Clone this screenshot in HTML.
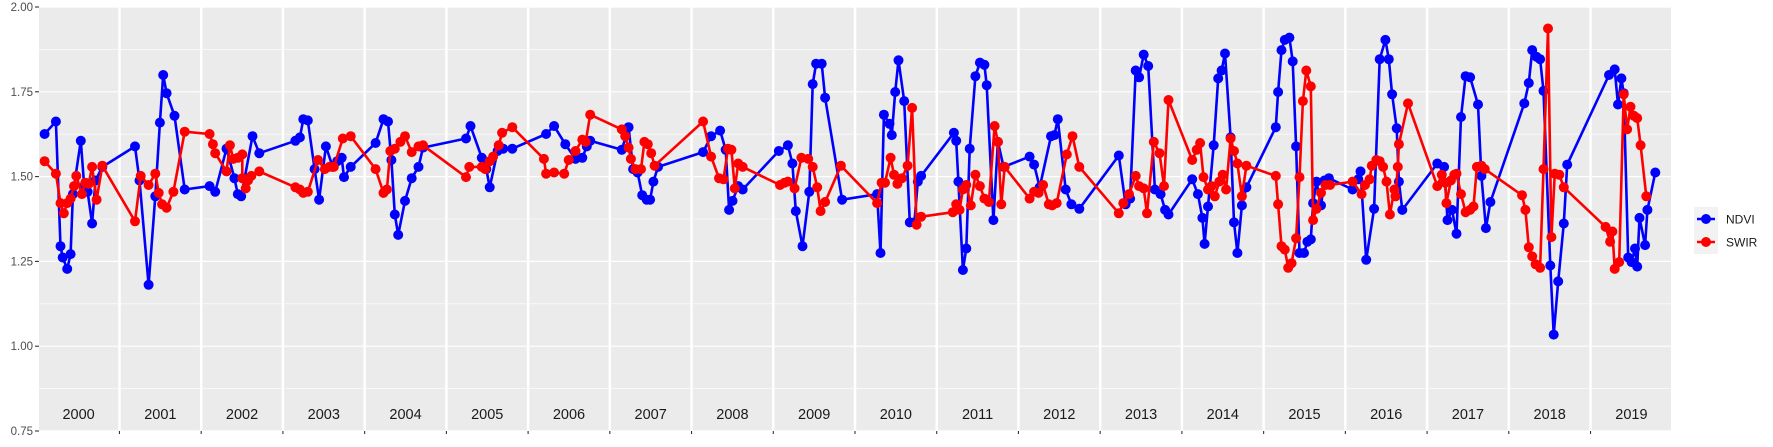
<!DOCTYPE html>
<html><head><meta charset="utf-8"><style>
body{margin:0;background:#fff;width:1773px;height:442px;overflow:hidden}
svg text{font-family:"Liberation Sans",sans-serif}
</style></head><body>
<svg id="s" width="1773" height="442" xmlns="http://www.w3.org/2000/svg"></svg>
<script>
const S=document.getElementById('s');let h='';
const L=39,R=1671,T=7,B=431;
const yv=v=>T+(2-v)/1.25*(B-T);
const gap=2.5,fw=(R-L-19*gap)/20;
for(let i=0;i<20;i++){const x0=L+i*(fw+gap);
h+=`<rect x="${x0}" y="${T}" width="${fw}" height="${B-T}" fill="#ebebeb"/>`;
for(let v=0.875;v<2;v+=0.25)h+=`<line x1="${x0}" x2="${x0+fw}" y1="${yv(v)}" y2="${yv(v)}" stroke="#fff" stroke-width="0.6"/>`;
for(let v=0.75;v<=2.001;v+=0.25)h+=`<line x1="${x0}" x2="${x0+fw}" y1="${yv(v)}" y2="${yv(v)}" stroke="#fff" stroke-width="1.2"/>`;
h+=`<text x="${x0+fw/2}" y="419" font-size="14.5" text-anchor="middle" fill="#1a1a1a">${2000+i}</text>`;
if(i>0)h+=`<line x1="${x0-gap/2}" x2="${x0-gap/2}" y1="${B}" y2="${B+3}" stroke="#333" stroke-width="1.1"/>`;}
[0.75,1,1.25,1.5,1.75,2].forEach(v=>{h+=`<line x1="35" x2="${L}" y1="${yv(v)}" y2="${yv(v)}" stroke="#333" stroke-width="1.1"/><text x="33" y="${yv(v)+4}" font-size="11.5" text-anchor="end" fill="#4d4d4d">${v.toFixed(2)}</text>`;});
const tx=x=>39+(x-37)*1.1295, ty=y=>7+(y-7)*1.1337;
const nd=[[42,119],[52,108],[56,218],[58,228],[62,238],[65,225],[67,172],[74,125],[77,165],[80,170],[84,198],[87,160],[93,148],[122,130],[126,160],[134,252],[140,174],[144,109],[147,67],[150,83],[157,103],[166,168],[188,165],[193,170],[203,132],[210,158],[213,172],[216,174],[226,121],[232,136],[264,125],[268,122],[271,106],[275,107],[281,150],[285,177],[291,130],[297,148],[301,143],[305,140],[307,157],[313,148],[335,127],[342,106],[346,108],[349,142],[352,190],[355,208],[361,178],[367,158],[373,148],[377,131],[415,123],[419,112],[429,140],[433,150],[436,166],[443,134],[448,132],[456,132],[486,119],[493,112],[503,128],[512,141],[518,140],[522,130],[525,125],[553,133],[559,113],[563,150],[567,153],[571,173],[575,177],[578,177],[581,161],[585,148],[625,135],[632,121],[640,116],[645,133],[648,186],[651,178],[656,165],[660,168],[692,134],[700,129],[704,145],[707,187],[713,218],[719,170],[722,75],[725,57],[730,57],[733,87],[748,177],[779,172],[782,224],[785,102],[790,110],[792,120],[795,82],[798,54],[803,90],[808,197],[812,197],[815,161],[818,156],[847,118],[849,125],[851,161],[855,239],[858,220],[861,132],[866,68],[870,56],[874,58],[876,76],[882,195],[886,126],[891,148],[914,139],[918,146],[923,166],[933,121],[936,120],[939,106],[946,168],[951,181],[958,185],[993,138],[999,181],[1003,176],[1008,63],[1011,69],[1015,49],[1019,59],[1025,168],[1030,172],[1034,186],[1037,190],[1058,159],[1063,172],[1067,193],[1069,216],[1072,183],[1077,129],[1081,70],[1084,63],[1087,48],[1092,122],[1095,197],[1098,224],[1102,182],[1106,166],[1132,113],[1134,82],[1137,45],[1140,36],[1144,34],[1147,55],[1150,130],[1153,224],[1157,224],[1160,214],[1163,212],[1165,180],[1168,161],[1172,182],[1175,160],[1179,158],[1200,168],[1205,159],[1207,152],[1212,230],[1219,185],[1224,53],[1229,36],[1232,53],[1235,84],[1239,114],[1241,161],[1244,186],[1275,145],[1281,148],[1284,195],[1288,186],[1292,207],[1296,104],[1300,68],[1304,69],[1311,93],[1314,156],[1318,202],[1322,179],[1352,92],[1356,74],[1359,45],[1363,51],[1366,53],[1369,81],[1375,235],[1378,296],[1382,249],[1387,198],[1390,146],[1427,67],[1432,62],[1435,93],[1438,70],[1440,83],[1444,228],[1447,232],[1450,220],[1452,236],[1454,193],[1459,217],[1461,186],[1468,153]];
const sw=[[42,143],[52,154],[56,180],[59,189],[62,180],[65,176],[68,165],[70,156],[75,172],[78,162],[81,163],[84,148],[88,177],[93,147],[122,196],[127,156],[134,164],[140,154],[143,171],[146,181],[150,184],[156,170],[166,117],[188,119],[191,128],[193,136],[203,152],[206,129],[209,141],[213,140],[217,137],[217,158],[220,167],[222,160],[225,156],[232,152],[264,166],[268,168],[271,171],[275,170],[284,142],[290,150],[294,148],[298,148],[306,123],[313,121],[335,150],[342,171],[345,168],[348,134],[352,132],[357,126],[361,121],[367,135],[373,130],[377,129],[415,157],[418,148],[429,148],[432,150],[436,143],[439,139],[444,129],[447,118],[456,113],[484,141],[486,154],[493,153],[502,154],[506,142],[512,134],[518,124],[521,126],[525,102],[553,115],[556,121],[559,131],[561,141],[565,150],[570,150],[573,126],[576,128],[579,136],[582,147],[625,108],[632,139],[639,158],[643,159],[647,132],[650,133],[653,167],[656,145],[660,148],[693,164],[697,162],[700,161],[706,167],[712,140],[718,141],[722,148],[726,166],[729,187],[733,179],[747,147],[779,180],[783,162],[786,162],[791,140],[794,155],[797,163],[801,158],[806,147],[810,96],[814,199],[818,192],[846,188],[849,181],[852,186],[855,168],[858,164],[862,182],[866,155],[870,165],[874,176],[878,179],[883,112],[886,126],[889,181],[892,148],[914,176],[918,170],[922,171],[926,164],[931,181],[934,182],[938,180],[947,137],[952,121],[958,148],[993,189],[997,180],[1002,172],[1008,156],[1011,165],[1015,167],[1018,189],[1024,126],[1029,136],[1033,165],[1037,89],[1058,142],[1062,133],[1065,127],[1068,157],[1072,168],[1075,165],[1078,174],[1082,161],[1085,155],[1088,168],[1092,123],[1095,134],[1098,145],[1102,174],[1106,147],[1132,156],[1134,181],[1137,218],[1140,221],[1143,237],[1146,233],[1150,211],[1153,157],[1156,90],[1159,63],[1163,77],[1165,195],[1168,185],[1172,171],[1176,164],[1180,164],[1200,161],[1208,172],[1211,164],[1215,159],[1217,147],[1221,142],[1224,143],[1227,148],[1230,161],[1233,190],[1237,168],[1238,174],[1240,148],[1241,128],[1249,92],[1275,165],[1279,155],[1282,162],[1283,180],[1287,160],[1290,155],[1292,154],[1296,172],[1300,188],[1304,186],[1307,183],[1310,148],[1314,147],[1317,150],[1350,173],[1353,186],[1356,219],[1359,227],[1362,234],[1366,237],[1369,150],[1373,26],[1376,210],[1379,154],[1383,155],[1387,166],[1424,201],[1428,214],[1430,205],[1432,238],[1436,232],[1440,84],[1443,115],[1446,95],[1449,103],[1452,105],[1455,129],[1460,174]];
function ser(d,c){const p=d.map(q=>tx(q[0]).toFixed(1)+','+ty(q[1]).toFixed(1)).join(' ');
h+=`<polyline points="${p}" fill="none" stroke="${c}" stroke-width="2.6" stroke-linejoin="round"/>`;
d.forEach(q=>h+=`<circle cx="${tx(q[0]).toFixed(1)}" cy="${ty(q[1]).toFixed(1)}" r="5" fill="${c}"/>`);}
ser(nd,'#0000ff');ser(sw,'#ff0000');
h+=`<rect x="1694" y="207" width="24" height="47" fill="#f2f2f2"/>`;
[[219,'#0000ff','NDVI'],[242,'#ff0000','SWIR']].forEach(k=>{h+=`<line x1="1697" x2="1715" y1="${k[0]}" y2="${k[0]}" stroke="${k[1]}" stroke-width="2.6"/><circle cx="1706" cy="${k[0]}" r="5" fill="${k[1]}"/><text x="1726" y="${k[0]+4.5}" font-size="12" fill="#1a1a1a">${k[2]}</text>`;});
S.innerHTML=h;
</script>
</body></html>
